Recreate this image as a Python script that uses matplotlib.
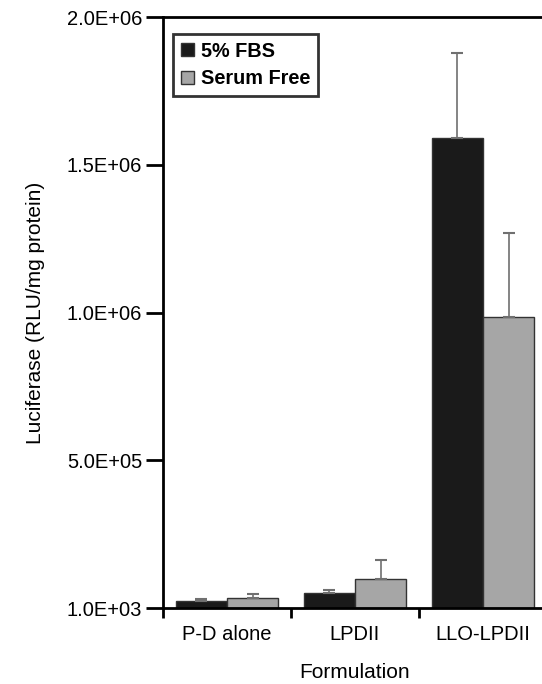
import numpy as np
import matplotlib
matplotlib.use("Agg")
import matplotlib.pyplot as plt

plt.rcParams['font.family'] = ['Liberation Sans', 'DejaVu Sans']

formulations = ["P-D alone", "LPDII", "LLO-LPDII"]
fbs_mean = [24000, 51000, 1590000]
fbs_err = [6000, 10000, 290000]
sf_mean = [34000, 98000, 984000]
sf_err = [13000, 64000, 284000]
series_names = ["5% FBS", "Serum Free"]
ytick_vals = [1000, 500000, 1000000, 1500000, 2000000]
ytick_labels = ["1.0E+03", "5.0E+05", "1.0E+06", "1.5E+06", "2.0E+06"]

fig = plt.figure(figsize=(5.42, 6.84), dpi=100)
ax = fig.add_axes([0.3007, 0.1111, 0.7085, 0.864])

x = np.arange(len(formulations))
w = 0.4
err_kw = dict(ecolor='#707070', elinewidth=1.2, capsize=4, capthick=1.5)
ax.bar(x - w / 2, fbs_mean, w, color='#1a1a1a', edgecolor='#333333', linewidth=1,
       yerr=[np.zeros(3), fbs_err], error_kw=err_kw, label=series_names[0])
ax.bar(x + w / 2, sf_mean, w, color='#a6a6a6', edgecolor='#333333', linewidth=1,
       yerr=[np.zeros(3), sf_err], error_kw=err_kw, label=series_names[1])

ax.set_xlim(-0.5, 2.5)
ax.set_ylim(1000, 2000000)
ax.set_yticks(ytick_vals)
ax.set_yticklabels(ytick_labels, fontsize=14.5)
ax.set_xticks(x)
ax.set_xticklabels(formulations, fontsize=14.5)
ax.set_xticks([-0.5, 0.5, 1.5], minor=True)
ax.tick_params(axis='x', which='major', length=0, pad=12)
ax.tick_params(axis='x', which='minor', length=7, width=2, direction='out')
ax.tick_params(axis='y', length=12, width=2, direction='out', pad=3)

for s in ['left', 'bottom', 'top']:
    ax.spines[s].set_linewidth(2)
ax.spines['right'].set_visible(False)

ax.set_ylabel("Luciferase (RLU/mg protein)", fontsize=15, labelpad=16)
ax.set_xlabel("Formulation", fontsize=15, labelpad=14)

leg = ax.legend(loc='upper left', bbox_to_anchor=(0.026, 0.972), fontsize=14.3,
                frameon=True, fancybox=False, edgecolor='black',
                handlelength=0.65, handleheight=0.65, handletextpad=0.35,
                borderpad=0.4, labelspacing=0.45, borderaxespad=0)
leg.get_frame().set_linewidth(2)
for t in leg.get_texts():
    t.set_fontweight('bold')

fig.savefig("out.png", dpi=100)
